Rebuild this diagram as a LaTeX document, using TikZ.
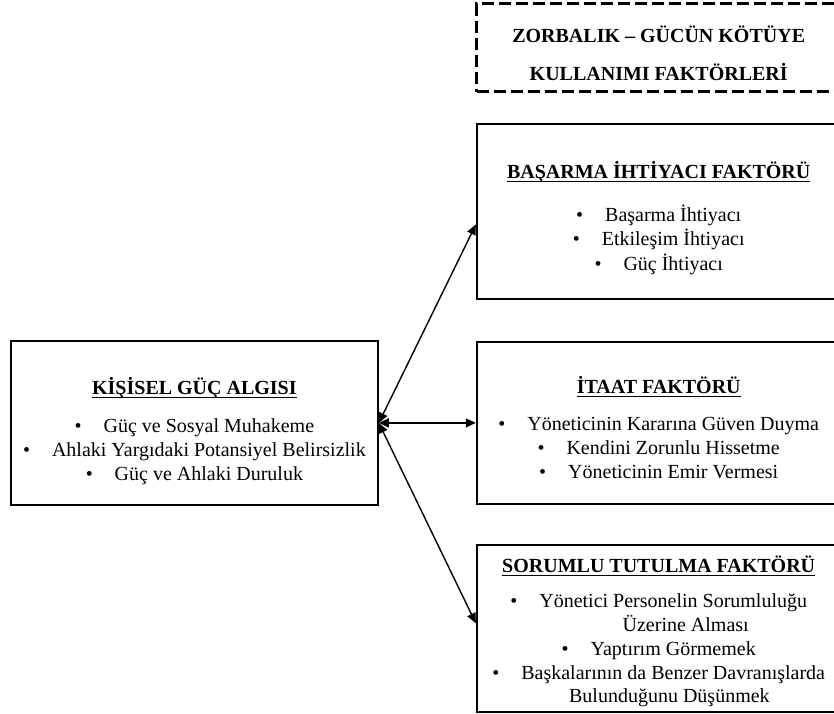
\documentclass[tikz,border=0pt]{standalone}
\usepackage{fontspec}
\setmainfont{Liberation Serif}
\usetikzlibrary{
  arrows.meta,
  positioning
}

% box text: width, height, first baseline, lines
\newcommand{\kutu}[4]{%
  \begin{minipage}[c][#2][t]{#1}\centering
    \fontsize{10}{12}\selectfont
    \vspace*{\dimexpr#3-9pt\relax}\rule{0pt}{9pt}#4%
  \end{minipage}}
\newcommand{\baslik}[1]{\underline{\raisebox{0pt}[\height][0pt]{\textbf{#1}}}}
\newcommand{\madde}[1]{\textbullet\hspace{1.1em}#1}

\begin{document}
\begin{tikzpicture}[
  node distance=20pt and 48.5pt,
  kutubox/.style={draw, line width=0.9pt, inner sep=0pt},
  dashbox/.style={draw, line width=1.5pt, dash pattern=on 6pt off 2.5pt, inner sep=0pt},
  arrow/.style={<->, >={Triangle[length=5pt, width=4.5pt]}, line width=0.7pt}
]
\useasboundingbox (0,0) rectangle (417pt,-356.5pt);

\node[kutubox, anchor=north west] (kisisel) at (5pt,-170pt)
  {\kutu{183.5pt}{82pt}{27pt}{\baslik{KİŞİSEL GÜÇ ALGISI}\\[7pt]
   \madde{Güç ve Sosyal Muhakeme}\\
   \madde{Ahlaki Yargıdaki Potansiyel Belirsizlik}\\
   \madde{Güç ve Ahlaki Duruluk}}};

\node[kutubox, right=of kisisel] (itaat)
  {\kutu{182pt}{81pt}{26pt}{\baslik{İTAAT FAKTÖRÜ}\\[6.5pt]
   \madde{Yöneticinin Kararına Güven Duyma}\\
   \madde{Kendini Zorunlu Hissetme}\\
   \madde{Yöneticinin Emir Vermesi}}};

\node[kutubox, above=20.5pt of itaat] (basarma)
  {\kutu{182pt}{87.5pt}{27pt}{\baslik{BAŞARMA İHTİYACI FAKTÖRÜ}\\[9.5pt]
   \madde{Başarma İhtiyacı}\\
   \madde{Etkileşim İhtiyacı}\\
   \madde{Güç İhtiyacı}\fontsize{10}{12.6}\selectfont}};

\node[kutubox, below=19.5pt of itaat] (sorumlu)
  {\kutu{182pt}{83.5pt}{14pt}{\baslik{SORUMLU TUTULMA FAKTÖRÜ}\\[5.5pt]
   \madde{Yönetici Personelin Sorumluluğu}\\
   \hspace*{27pt}Üzerine Alması\\
   \madde{Yaptırım Görmemek}\\
   \madde{Başkalarının da Benzer Davranışlarda}\\
   \hspace*{10.7pt}Bulunduğunu Düşünmek\fontsize{10}{11.5}\selectfont}};

\node[dashbox, above=15pt of basarma] (zorbalik)
  {\kutu{182pt}{44pt}{19.5pt}{\textbf{ZORBALIK – GÜCÜN KÖTÜYE}\\[7pt]
   \textbf{KULLANIMI FAKTÖRLERİ}}};

\draw[arrow] (kisisel.east) -- ([yshift=-6.5pt]basarma.west);
\draw[arrow] (kisisel.east) -- (itaat.west);
\draw[arrow] (kisisel.east) -- ([yshift=2.5pt]sorumlu.west);
\end{tikzpicture}
\end{document}
